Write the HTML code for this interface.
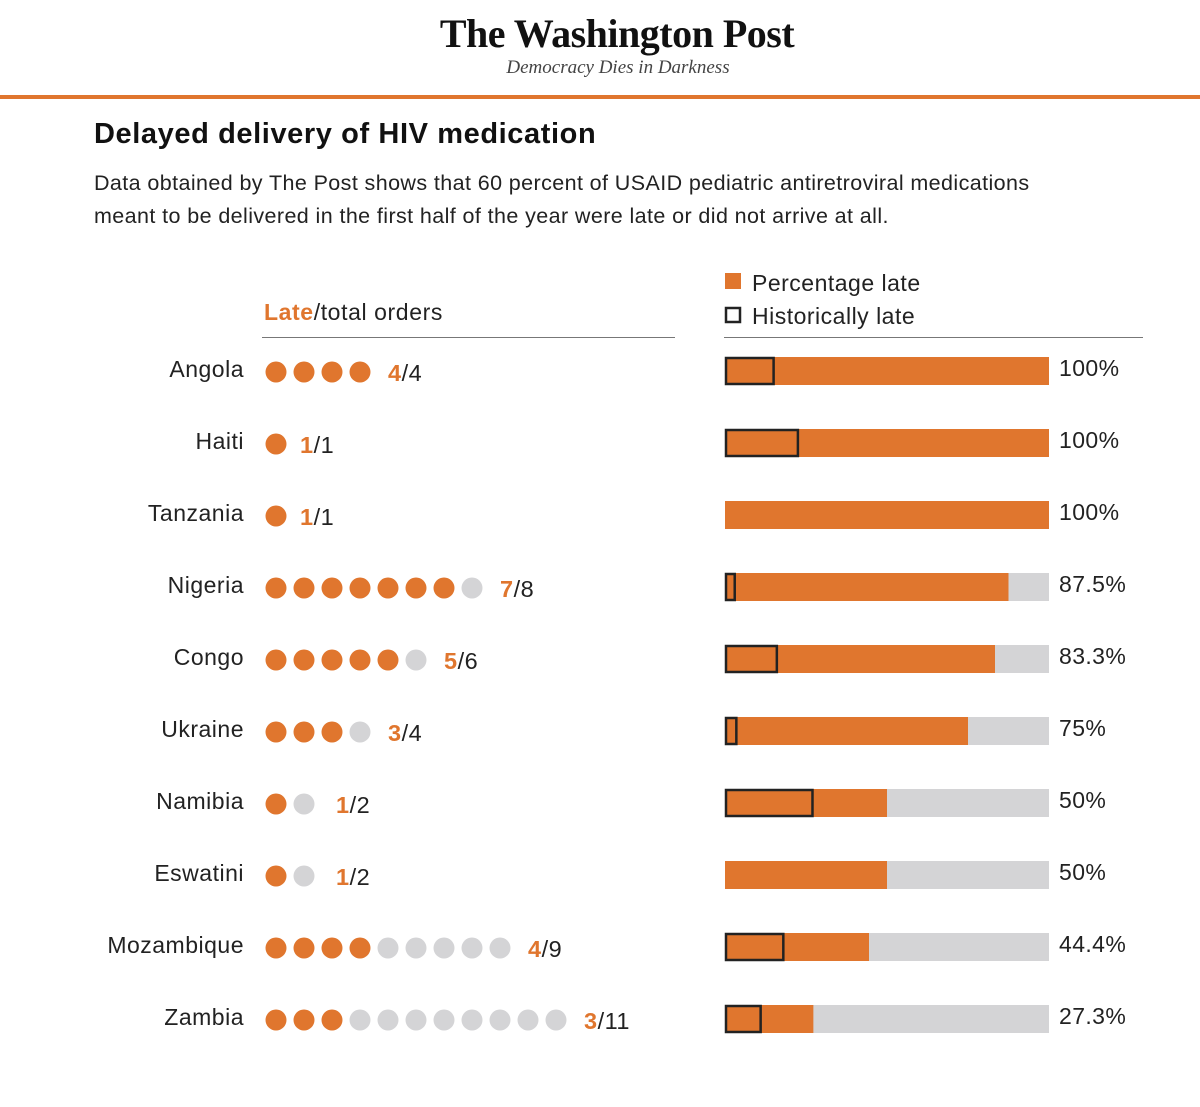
<!DOCTYPE html>
<html><head><meta charset="utf-8">
<style>
body{margin:0;background:#fff;width:1200px;height:1107px;overflow:hidden;font-family:"Liberation Sans",sans-serif;color:#111}
.logo{position:absolute;left:0;width:1234px;text-align:center;top:10px;font-family:"Liberation Serif",serif;font-weight:bold;font-size:40px;letter-spacing:-0.5px}
.tag{position:absolute;left:0;width:1236px;text-align:center;top:57px;font-family:"Liberation Serif",serif;font-style:italic;font-size:19px;color:#444}
.rule{position:absolute;left:0;top:95px;width:1200px;height:4px;background:#e0762e}
h1{position:absolute;left:94px;top:118px;margin:0;font-size:29px;font-weight:bold;letter-spacing:0.6px}
.sub{position:absolute;left:94px;top:167px;font-size:21.5px;line-height:33px;color:#222;width:1100px;letter-spacing:0.4px;white-space:nowrap}
</style></head><body>
<div class="logo">The Washington Post</div>
<div class="tag">Democracy Dies in Darkness</div>
<div class="rule"></div>
<h1>Delayed delivery of HIV medication</h1>
<div class="sub">Data obtained by The Post shows that 60 percent of USAID pediatric antiretroviral medications<br>meant to be delivered in the first half of the year were late or did not arrive at all.</div>
<svg id="chart" width="1200" height="1107" style="position:absolute;left:0;top:0" font-family="Liberation Sans, sans-serif">
<text x="264" y="320" font-size="23" letter-spacing="0.6" fill="#222"><tspan fill="#e0762e" font-weight="bold">Late</tspan>/total orders</text>
<line x1="262" y1="337.5" x2="675" y2="337.5" stroke="#777" stroke-width="1"/>
<rect x="725" y="273" width="16" height="16" fill="#e0762e"/>
<text x="752" y="291" font-size="23" letter-spacing="0.5" fill="#222">Percentage late</text>
<rect x="726" y="308" width="14" height="14" fill="none" stroke="#222" stroke-width="2.5"/>
<text x="752" y="324" font-size="23" letter-spacing="0.5" fill="#222">Historically late</text>
<line x1="724" y1="337.5" x2="1143" y2="337.5" stroke="#777" stroke-width="1"/>
</svg>
<script>
const countries=["Angola","Haiti","Tanzania","Nigeria","Congo","Ukraine","Namibia","Eswatini","Mozambique","Zambia"];
const lateOrders=[4,1,1,7,5,3,1,1,4,3];
const totalOrders=[4,1,1,8,6,4,2,2,9,11];
const pctLabels=["100%","100%","100%","87.5%","83.3%","75%","50%","50%","44.4%","27.3%"];
const historicalPct=[15,22.5,0,3,16,3.5,27,0,18,11];
const svg=document.getElementById('chart');
const NS='http://www.w3.org/2000/svg';
const x0=725,bw=324,rowY=i=>371+i*72;
const xs=v=>x0+bw*v/100;
function mk(t,a){const e=document.createElementNS(NS,t);for(const k in a)e.setAttribute(k,a[k]);svg.appendChild(e);return e;}
countries.forEach((c,i)=>{
  const y=rowY(i);
  const lab=mk('text',{x:244,y:y+6,'font-size':23,'letter-spacing':0.5,'text-anchor':'end',fill:'#222'});lab.textContent=c;
  
  
  for(let d=0;d<totalOrders[i];d++){
    const dot=mk('circle',{cx:276+d*28,cy:y+1,r:10.5,fill:d<lateOrders[i]?'#e0762e':'#d4d4d6'});
    
    
  }
  const lx=276+(totalOrders[i]-1)*28+(totalOrders[i]<=2?24+(totalOrders[i]==2?8:0):28);
  const t=mk('text',{x:lx,y:y+10,'font-size':23.5,'letter-spacing':0.5,fill:'#222'});
  t.innerHTML='<tspan fill="#e0762e" font-weight="bold">'+lateOrders[i]+'</tspan>/'+totalOrders[i];
  
  
  const pct=100*lateOrders[i]/totalOrders[i];
  const bg=mk('rect',{x:x0,y:y-14,width:bw,height:28,fill:'#d4d4d6'});
  
  
  const b=mk('rect',{x:x0,y:y-14,width:xs(pct)-x0,height:28,fill:'#e0762e'});
  
  
  if(historicalPct[i]>0){
    const h=mk('rect',{x:x0+1,y:y-13,width:xs(historicalPct[i])-x0-1,height:26,fill:'none',stroke:'#222','stroke-width':2.5});
    
    
  }
  const p=mk('text',{x:1059,y:y+5,'font-size':23,'letter-spacing':0.4,fill:'#222'});p.textContent=pctLabels[i];
  
  
});
</script>
</body></html>
